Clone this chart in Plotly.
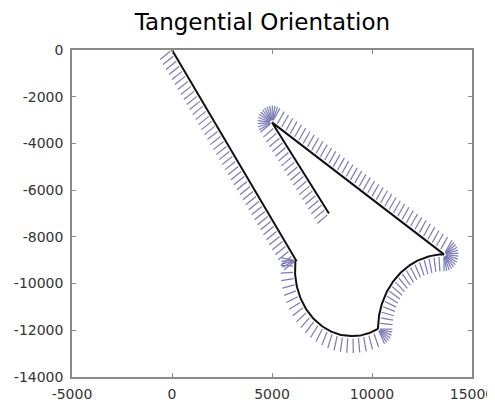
import math
import plotly.graph_objects as go

# ---- data ----
X_TICKS = [-5000, 0, 5000, 10000, 15000]
X_TICK_LABELS = ["-5000", "0", "5000", "10000", "15000"]
Y_TICKS = [0, -2000, -4000, -6000, -8000, -10000, -12000, -14000]
Y_TICK_LABELS = ["0", "-2000", "-4000", "-6000", "-8000", "-10000", "-12000", "-14000"]

# path pieces (in drive order)
LINE1 = [(0, 0), (6200, -9000)]
ARC1_CENTER = (9000, -9400)
ARC1_RADII = (2850, 2850)
ARC1_ANGLES = (172, 297.1)      # degrees, counter-clockwise
ARC2_CENTER = (13600, -11950)
ARC2_RADII = (3300, 3200)
ARC2_ANGLES = (180, 90)         # degrees, clockwise
LINE3 = [(13600, -8750), (5000, -3100)]
LINE4 = [(5000, -3100), (7850, -7000)]

SAMPLE_STEP = 260     # spacing of orientation marks along the path
TICK_FROM = 100       # orientation mark starts this far from the path
TICK_TO = 720         # and ends this far
FAN_STEP = 10         # degrees between marks when turning in place


def line_samples(p0, p1):
    dx, dy = p1[0] - p0[0], p1[1] - p0[1]
    L = math.hypot(dx, dy)
    h = math.atan2(dy, dx)
    n = max(1, int(round(L / SAMPLE_STEP)))
    pts = [(p0[0] + dx * i / n, p0[1] + dy * i / n, h) for i in range(n + 1)]
    return pts, [p0, p1]


def arc_samples(c, radii, angles):
    a0, a1 = math.radians(angles[0]), math.radians(angles[1])
    ccw = a1 > a0
    rm = (radii[0] + radii[1]) / 2
    L = abs(a1 - a0) * rm
    n = max(1, int(round(L / SAMPLE_STEP)))
    pts = []
    for i in range(n + 1):
        a = a0 + (a1 - a0) * i / n
        x = c[0] + radii[0] * math.cos(a)
        y = c[1] + radii[1] * math.sin(a)
        tx = -radii[0] * math.sin(a)
        ty = radii[1] * math.cos(a)
        if not ccw:
            tx, ty = -tx, -ty
        pts.append((x, y, math.atan2(ty, tx)))
    m = 80
    line = [(c[0] + radii[0] * math.cos(a0 + (a1 - a0) * i / m),
             c[1] + radii[1] * math.sin(a0 + (a1 - a0) * i / m)) for i in range(m + 1)]
    return pts, line


pieces = [
    line_samples(*LINE1),
    arc_samples(ARC1_CENTER, ARC1_RADII, ARC1_ANGLES),
    arc_samples(ARC2_CENTER, ARC2_RADII, ARC2_ANGLES),
    line_samples(*LINE3),
    line_samples(*LINE4),
]

samples = []
path_x, path_y = [], []
prev = None
for pts, line in pieces:
    if prev is not None:
        # turn in place at the corner
        h0, h1 = prev[2], pts[0][2]
        d = (h1 - h0 + math.pi) % (2 * math.pi) - math.pi
        k = max(1, int(abs(math.degrees(d)) / FAN_STEP))
        for j in range(1, k):
            samples.append((pts[0][0], pts[0][1], h0 + d * j / k))
    samples.extend(pts)
    prev = pts[-1]
    for x, y in line:
        path_x.append(x)
        path_y.append(y)

tick_x, tick_y = [], []
for x, y, h in samples:
    nx, ny = math.cos(h - math.pi / 2), math.sin(h - math.pi / 2)
    tick_x += [x + nx * TICK_FROM, x + nx * TICK_TO, None]
    tick_y += [y + ny * TICK_FROM, y + ny * TICK_TO, None]

fig = go.Figure()
fig.add_trace(go.Scatter(x=tick_x, y=tick_y, mode="lines",
                         line=dict(color="#7a7ab8", width=1.2),
                         hoverinfo="skip", showlegend=False))
fig.add_trace(go.Scatter(x=path_x, y=path_y, mode="lines",
                         line=dict(color="#111111", width=2),
                         showlegend=False))

axis_common = dict(showgrid=False, zeroline=False, showline=True,
                   linecolor="#8a8a8a", linewidth=1.5, mirror="ticks",
                   ticks="inside", ticklen=4, tickcolor="#8a8a8a",
                   automargin=False,
                   tickfont=dict(family="DejaVu Sans", size=14, color="#333333"))

# the page body adds an 8px offset, so the figure is 8px smaller on each axis
fig.update_layout(
    width=487, height=394,
    margin=dict(l=64, r=23, t=42, b=25),
    paper_bgcolor="white", plot_bgcolor="white",
    title=dict(text="Tangential Orientation", x=254.5 / 487, xanchor="center",
               y=1 - 14 / 394, yanchor="middle", yref="container",
               font=dict(family="DejaVu Sans", size=23, color="#000000")),
    xaxis=dict(range=[-5000, 15000], tickvals=X_TICKS, ticktext=X_TICK_LABELS,
               ticklabelstandoff=3, **axis_common),
    yaxis=dict(range=[-14000, 0], tickvals=Y_TICKS, ticktext=Y_TICK_LABELS,
               ticklabelstandoff=4, **axis_common),
)

fig.write_html("out.html")
